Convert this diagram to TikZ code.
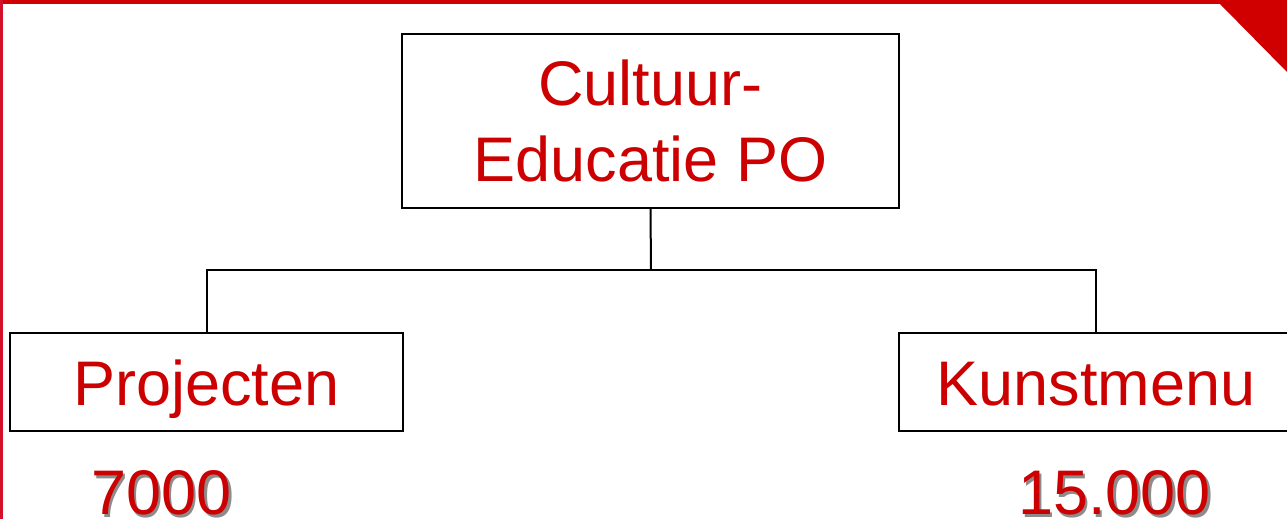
\documentclass[tikz,border=0pt]{standalone}
\usepackage{fontspec}
\setmainfont{Liberation Sans}
\definecolor{txtred}{RGB}{204,0,0}
\definecolor{barred}{RGB}{208,0,0}
\definecolor{sidered}{RGB}{210,16,42}
\definecolor{shadowgray}{RGB}{140,140,140}
\begin{document}
\begin{tikzpicture}[x=1pt,y=-1pt,
  box/.style={draw=black,line width=2pt,fill=white,inner sep=0pt,text=txtred,align=center},
  link/.style={draw=black,line width=2pt},
  big/.style={font=\fontsize{63}{76}\selectfont},
  low/.style={text height=50pt,text depth=4pt},
  num/.style={font=\fontsize{63}{76}\selectfont,anchor=base,inner sep=0pt}]
\useasboundingbox (0,0) rectangle (1287,519);
\fill[white] (0,0) rectangle (1287,519);
\begin{scope}
\clip (0,0) rectangle (1287,519);
% frame decorations
\fill[barred] (0,0) rectangle (1287,4);
\fill[sidered] (0,0) rectangle (2.5,519);
\fill[barred] (1219,3) -- (1287,3) -- (1287,72) -- cycle;
% boxes
\node[box,big,minimum width=497pt,minimum height=174pt] (top) at (650.5,121) {Cultuur-\\Educatie PO};
\node[box,big,low,minimum width=393pt,minimum height=98pt] (proj) at (206.5,382) {Projecten};
\node[box,big,low,minimum width=394pt,minimum height=98pt] (kun) at (1096,382) {Kunstmenu};
% connectors
\coordinate (j) at (651,270);
\draw[link] (top.south) -- (j);
\draw[link] (proj.north) |- (j) -| (kun.north);
% numbers with shadow
\node[num,text=shadowgray] (n1s) at (164,517) {7000};
\node[num,text=txtred] (n1) at (161.5,514) {7000};
\node[num,text=shadowgray] (n2s) at (1117,517) {15.000};
\node[num,text=txtred] (n2) at (1114.5,514) {15.000};
\end{scope}
\end{tikzpicture}
\end{document}
